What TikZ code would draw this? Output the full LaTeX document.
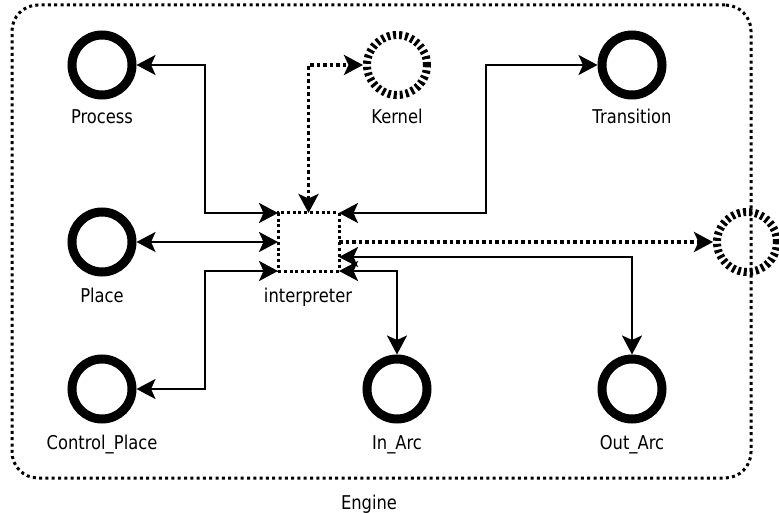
\documentclass[tikz,border=0pt]{standalone}
\usepackage{fontspec}
\setmainfont{DejaVu Sans}[FakeStretch=0.86]
\usetikzlibrary{arrows.meta}
\begin{document}
\begin{tikzpicture}[x=1pt,y=-1pt,
  lbl/.style={font=\fontsize{19}{21}\selectfont, anchor=base, inner sep=0pt},
  place/.style={circle, draw, line width=9pt, minimum size=60pt, inner sep=0pt},
  dplace/.style={place, line width=8pt, dash pattern=on 3pt off 3pt},
  conn/.style={line width=2.5pt, {Stealth[length=19pt,width=20pt,inset=4.5pt]}-{Stealth[length=19pt,width=20pt,inset=4.5pt]}},
  dconn/.style={line width=3.5pt, dash pattern=on 3.5pt off 3pt, {Stealth[length=19pt,width=20pt,inset=4.5pt]}-{Stealth[length=19pt,width=20pt,inset=4.5pt]}},
  dconnone/.style={line width=3.5pt, dash pattern=on 3.5pt off 3pt, -{Stealth[length=19pt,width=20pt,inset=4.5pt]}},
  framebox/.style={rectangle, draw, line width=3pt, dash pattern=on 3pt off 3.3pt, rounded corners=26pt, inner sep=0pt},
  interpbox/.style={rectangle, draw, line width=3pt, dash pattern=on 3pt off 2.8pt, inner sep=0pt, outer sep=0pt, minimum width=61pt, minimum height=58pt}
]
\useasboundingbox (0,0) rectangle (779,513);
% frame
\node[framebox, minimum width=739pt, minimum height=473pt] (engine) at (381.5,241.5) {};
\node[lbl] (lengine) at (369,509) {Engine};
% places
\node[place] (proc) at (102,65) {};
\node[dplace] (kernel) at (397,65) {};
\node[place] (trans) at (632,65) {};
\node[place] (placeC) at (102,242) {};
\node[interpbox] (interp) at (308.5,242) {};
\node[dplace] (ext) at (747,242) {};
\node[place] (ctrl) at (102,389) {};
\node[place] (inarc) at (397,389) {};
\node[place] (outarc) at (632,389) {};
% labels
\node[lbl] (lproc) at (102,124) {Process};
\node[lbl] (lkernel) at (397,124) {Kernel};
\node[lbl] (ltrans) at (632,124) {Transition};
\node[lbl] (lplace) at (102,302) {Place};
\node[lbl] (linterp) at (308,302) {interpreter};
\node[lbl] (lctrl) at (102,449) {Control\_Place};
\node[lbl] (linarc) at (397,449) {In\_Arc};
\node[lbl] (loutarc) at (632,449) {Out\_Arc};
% connectors
\draw[conn] (proc.east) -| (205,150) |- (interp.north west);
\draw[conn] (placeC.east) -- (interp.west);
\draw[conn] (ctrl.east) -| (205,300) |- (interp.south west);
\draw[dconn] (interp.north) |- (kernel.west);
\draw[conn] (interp.north east) -| (486,150) |- (trans.west);
\draw[dconnone] (interp.east) -- (ext.west);
\draw[conn] ([yshift=-15pt]interp.east) -| (outarc.north);
\draw[conn] (interp.south east) -| (inarc.north);
\end{tikzpicture}
\end{document}
